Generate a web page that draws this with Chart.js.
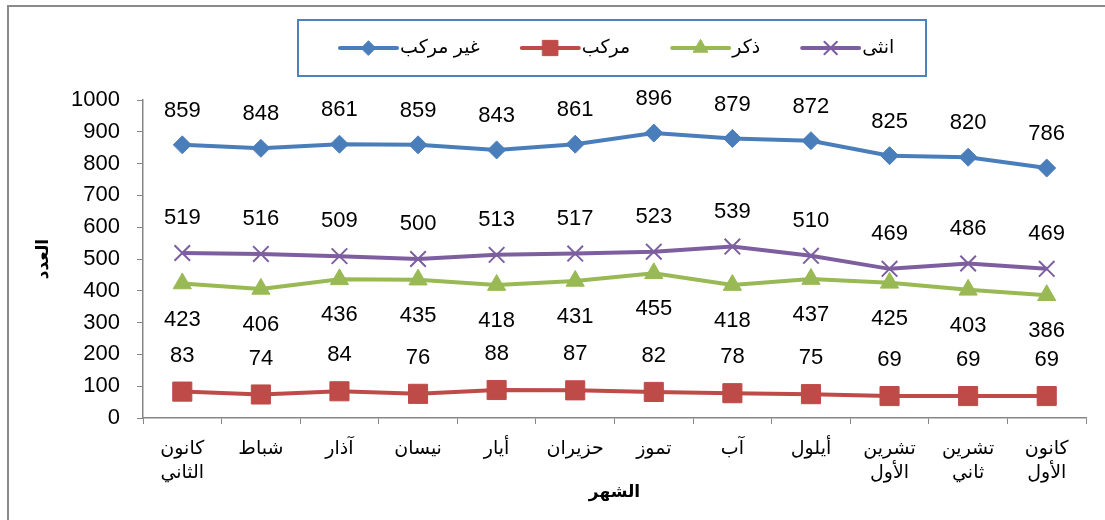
<!DOCTYPE html>
<html>
<head>
<meta charset="utf-8">
<script src="https://cdn.jsdelivr.net/npm/chart.js@4/dist/chart.umd.min.js"></script>
<style>
  body { margin: 0; background: #fff; }
  #wrap { position: relative; width: 1105px; height: 520px; }
  #frame { position: absolute; left: 7px; top: 5px; width: 1110px; height: 530px;
           border-left: 2px solid #8a8a8a; border-top: 2px solid #8a8a8a; pointer-events: none; }
</style>
</head>
<body>
<div id="wrap">
  <canvas id="board" width="1105" height="520"></canvas>
  <div id="frame"></div>
</div>
<script>
var months = [['كانون', 'الثاني'], 'شباط', 'آذار', 'نيسان', 'أيار', 'حزيران', 'تموز', 'آب', 'أيلول',
    ['تشرين', 'الأول'], ['تشرين', 'ثاني'], ['كانون', 'الأول']];
var seriesNames = ['غير مركب', 'مركب', 'ذكر', 'انثى'];
var notCompound = [859, 848, 861, 859, 843, 861, 896, 879, 872, 825, 820, 786];
var compound = [83, 74, 84, 76, 88, 87, 82, 78, 75, 69, 69, 69];
var male = [423, 406, 436, 435, 418, 431, 455, 418, 437, 425, 403, 386];
var female = [519, 516, 509, 500, 513, 517, 523, 539, 510, 469, 486, 469];
var yTicks = [0, 100, 200, 300, 400, 500, 600, 700, 800, 900, 1000];

var FONT = '"Liberation Sans", Arial, "DejaVu Sans", sans-serif';
Chart.defaults.font.family = FONT;
Chart.defaults.color = '#000';

function makeSeries(label, data, color, style, radius, borderW, labelOffset) {
    return {
        label: label,
        data: data,
        borderColor: color,
        backgroundColor: color,
        borderWidth: 4,
        tension: 0,
        pointStyle: style,
        pointRadius: radius,
        pointHoverRadius: radius,
        pointBackgroundColor: color,
        pointBorderColor: color,
        pointBorderWidth: borderW,
        labelOffset: labelOffset
    };
}

// numbers printed over / under each point
const valueLabels = {
    id: 'valueLabels',
    afterDatasetsDraw(chart) {
        const ctx = chart.ctx;
        ctx.save();
        ctx.font = '22px ' + FONT;
        ctx.fillStyle = '#000';
        ctx.textAlign = 'center';
        ctx.textBaseline = 'middle';
        chart.data.datasets.forEach((ds, i) => {
            const meta = chart.getDatasetMeta(i);
            meta.data.forEach((pt, j) => {
                ctx.fillText(ds.data[j], pt.x, pt.y + ds.labelOffset);
            });
        });
        ctx.restore();
    }
};

// boxed legend, icon = line with marker
const boxLegend = {
    id: 'boxLegend',
    afterDraw(chart, args, opts) {
        const ctx = chart.ctx;
        ctx.save();
        ctx.strokeStyle = opts.borderColor;
        ctx.lineWidth = 2;
        ctx.strokeRect(opts.left, opts.top, opts.right - opts.left, opts.bottom - opts.top);
        ctx.font = opts.fontSize + 'px ' + FONT;
        ctx.textBaseline = 'middle';
        ctx.textAlign = 'left';
        const cy = (opts.top + opts.bottom) / 2;
        let x = opts.left + opts.padLeft;
        chart.data.datasets.forEach(ds => {
            ctx.strokeStyle = ds.borderColor;
            ctx.lineWidth = 4;
            ctx.lineCap = 'round';
            ctx.beginPath();
            ctx.moveTo(x, cy);
            ctx.lineTo(x + opts.iconWidth, cy);
            ctx.stroke();
            ctx.fillStyle = ds.pointBackgroundColor;
            ctx.strokeStyle = ds.pointBorderColor;
            ctx.lineWidth = ds.pointBorderWidth;
            Chart.helpers.drawPoint(ctx, {
                pointStyle: ds.pointStyle, rotation: 0, radius: ds.pointRadius * 0.8,
                borderWidth: ds.pointBorderWidth
            }, x + opts.iconWidth / 2, cy);
            ctx.fillStyle = '#000';
            ctx.fillText(ds.label, x + opts.iconWidth + 3, cy);
            x += opts.iconWidth + 3 + ctx.measureText(ds.label).width + opts.gap;
        });
        ctx.restore();
    }
};

new Chart(document.getElementById('board'), {
    type: 'line',
    data: {
        labels: months,
        datasets: [
            makeSeries(seriesNames[0], notCompound, '#4a7ebb', 'rectRot', 9, 1, -34),
            makeSeries(seriesNames[1], compound, '#be4b48', 'rect', 13.5, 1, -36),
            makeSeries(seriesNames[2], male, '#98b954', 'triangle', 10.5, 1, 36),
            makeSeries(seriesNames[3], female, '#7d5fa0', 'crossRot', 11, 2, -35)
        ]
    },
    options: {
        responsive: false,
        animation: false,
        layout: { padding: { top: 100, right: 19, left: 0, bottom: 0 } },
        plugins: {
            legend: { display: false },
            tooltip: { enabled: false },
            boxLegend: {
                left: 298, top: 20, right: 926, bottom: 76, padLeft: 42,
                iconWidth: 57, gap: 42, fontSize: 19, borderColor: '#4f81bd'
            }
        },
        scales: {
            x: {
                offset: true,
                afterFit: s => { s.height = 102; },
                grid: { offset: true, drawOnChartArea: false, tickLength: 6, color: '#868686' },
                border: { color: '#868686', width: 1.5 },
                ticks: { font: { size: 19, lineHeight: 1.3 }, padding: 12, maxRotation: 0, autoSkip: false },
                title: { display: true, text: 'الشهر', font: { size: 17, weight: 'bold' }, padding: { top: 0, bottom: 17 } }
            },
            y: {
                min: 0,
                max: 1000,
                afterFit: s => { s.width = 143; },
                afterBuildTicks: s => { s.ticks = yTicks.map(v => ({ value: v })); },
                grid: { drawOnChartArea: false, tickLength: 6, color: '#868686' },
                border: { color: '#868686', width: 1.5 },
                ticks: { font: { size: 22 }, padding: 17, callback: v => String(v) },
                title: { display: true, text: 'العدد', font: { size: 17, weight: 'bold' }, padding: { top: 33, bottom: 0 } }
            }
        }
    },
    plugins: [valueLabels, boxLegend]
});
</script>
</body>
</html>
